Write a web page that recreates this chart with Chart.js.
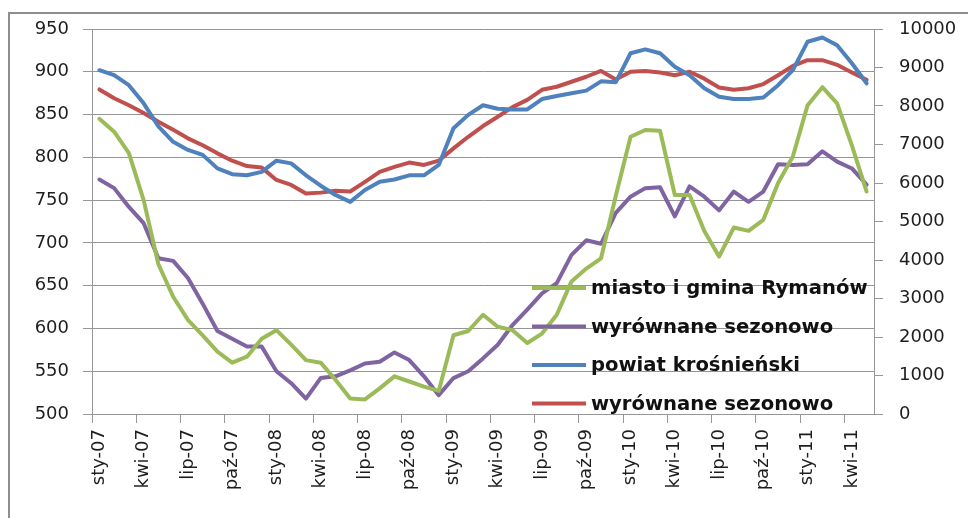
<!DOCTYPE html>
<html lang="pl">
<head>
<meta charset="UTF-8" />
<title>Bezrobocie – Rymanów i powiat krośnieński</title>
<script src="https://cdn.jsdelivr.net/npm/chart.js"></script>
<style>
  body { margin: 0; background: #fff; }
  #wrap { position: relative; width: 968px; height: 518px; overflow: hidden; }
  #frame { position: absolute; left: 8px; top: 12px; width: 1000px; height: 600px; border: 2px solid #8e8e8e; }
  #c { position: absolute; left: 0; top: 0; }
</style>
</head>
<body>
<div id="wrap">
  <div id="frame"></div>
  <canvas id="c" width="968" height="518"></canvas>
</div>
<script>
  // months sty-07 .. maj-11
  const labels = [
    'sty-07','lut-07','mar-07','kwi-07','maj-07','cze-07','lip-07','sie-07','wrz-07','paź-07','lis-07','gru-07',
    'sty-08','lut-08','mar-08','kwi-08','maj-08','cze-08','lip-08','sie-08','wrz-08','paź-08','lis-08','gru-08',
    'sty-09','lut-09','mar-09','kwi-09','maj-09','cze-09','lip-09','sie-09','wrz-09','paź-09','lis-09','gru-09',
    'sty-10','lut-10','mar-10','kwi-10','maj-10','cze-10','lip-10','sie-10','wrz-10','paź-10','lis-10','gru-10',
    'sty-11','lut-11','mar-11','kwi-11','maj-11'
  ];

  // miasto i gmina Rymanów (left axis)
  const gmina = [845,830,805,750,675,637,610,592,573,560,567,588,
                 598,581,563,560,540,518,517,530,544,538,532,527,
                 592,597,616,602,598,583,594,616,655,670,682,755,
                 824,832,831,756,756,714,684,718,714,727,770,801,
                 861,882,863,814,760];
  const gminaSa = [774,764,742,723,682,679,659,629,597,588,579,579,
                   550,536,518,542,544,551,559,561,572,563,544,522,
                   542,550,565,581,604,622,641,653,686,703,699,735,
                   754,764,765,731,766,754,738,760,748,760,792,791,
                   792,807,795,787,768];

  // powiat krośnieński (right axis)
  const powiat = [8930,8800,8540,8070,7470,7070,6860,6730,6380,6230,6200,6290,
                  6580,6510,6200,5930,5690,5510,5820,6030,6090,6200,6200,6470,
                  7420,7770,8020,7930,7910,7910,8180,8260,8330,8400,8640,8620,
                  9370,9470,9370,9020,8800,8460,8240,8180,8180,8220,8540,8930,
                  9670,9780,9580,9110,8590];
  const powiatSa = [8430,8200,8020,7820,7590,7380,7160,6980,6770,6580,6440,6400,
                    6080,5950,5730,5750,5800,5780,6030,6290,6420,6530,6470,6580,
                    6900,7200,7480,7720,7970,8160,8420,8500,8630,8760,8910,8690,
                    8890,8910,8870,8800,8890,8710,8480,8420,8460,8570,8800,9040,
                    9190,9190,9070,8870,8680];

  const leftTicks = { min: 500, max: 950, step: 50 };
  const rightTicks = { min: 0, max: 10000, step: 1000 };

  const grey = '#969696';
  const tickFont = { family: 'DejaVu Sans', size: 18 };
  const tickColor = '#1e1e1e';

  // legend drawn inside the plot, lower right
  const insideLegend = {
    id: 'insideLegend',
    afterDatasetsDraw(chart) {
      const ctx = chart.ctx;
      ctx.save();
      ctx.font = 'bold 19.6px "DejaVu Sans"';
      ctx.textBaseline = 'middle';
      chart.data.datasets.forEach((ds, i) => {
        const y = 288 + i * 38.5;
        ctx.strokeStyle = ds.borderColor;
        ctx.lineWidth = 4;
        ctx.beginPath();
        ctx.moveTo(532, y);
        ctx.lineTo(586, y);
        ctx.stroke();
        ctx.fillStyle = '#111';
        ctx.fillText(ds.label, 591, y + 1);
      });
      ctx.restore();
    }
  };

  new Chart(document.getElementById('c'), {
    type: 'line',
    data: {
      labels,
      datasets: [
        { label: 'miasto i gmina Rymanów', data: gmina, borderColor: '#9bbb59', yAxisID: 'y' },
        { label: 'wyrównane sezonowo', data: gminaSa, borderColor: '#8064a2', yAxisID: 'y' },
        { label: 'powiat krośnieński', data: powiat, borderColor: '#4f81bd', yAxisID: 'y2' },
        { label: 'wyrównane sezonowo', data: powiatSa, borderColor: '#c0504d', yAxisID: 'y2' }
      ]
    },
    options: {
      responsive: false,
      animation: false,
      layout: { padding: { top: 29, left: 0, right: 0, bottom: 0 } },
      elements: {
        line: { borderWidth: 4, tension: 0, borderJoinStyle: 'round', borderCapStyle: 'round' },
        point: { radius: 0 }
      },
      plugins: { legend: { display: false }, tooltip: { enabled: false } },
      scales: {
        x: {
          offset: true,
          grid: {
            offset: true,
            drawOnChartArea: false,
            tickLength: 9,
            color: ctx => ctx.index % 3 === 0 ? grey : 'rgba(0,0,0,0)'
          },
          border: { color: grey },
          ticks: {
            autoSkip: false, minRotation: 90, maxRotation: 90, padding: 6,
            font: tickFont, color: tickColor,
            callback: (v, i) => i % 3 === 0 ? labels[i] : ''
          },
          afterFit: s => { s.height = 104; }
        },
        y: {
          position: 'left',
          min: leftTicks.min, max: leftTicks.max,
          ticks: { stepSize: leftTicks.step, padding: 14, font: tickFont, color: tickColor, callback: v => String(v) },
          grid: { color: grey, tickLength: 9 },
          border: { color: grey },
          afterFit: s => { s.width = 92; }
        },
        y2: {
          position: 'right',
          min: rightTicks.min, max: rightTicks.max,
          ticks: { stepSize: rightTicks.step, padding: 16, font: tickFont, color: tickColor, callback: v => String(v) },
          grid: { drawOnChartArea: false, color: grey, tickLength: 9 },
          border: { color: grey },
          afterFit: s => { s.width = 94; }
        }
      }
    },
    plugins: [insideLegend]
  });
</script>
</body>
</html>
